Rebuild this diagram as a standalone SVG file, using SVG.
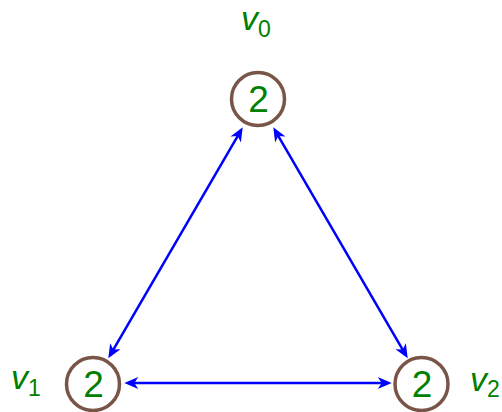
<svg xmlns="http://www.w3.org/2000/svg" width="502" height="412" viewBox="0 0 502 412">
<style>
.node{fill:#fff;stroke:#795548;stroke-width:3.5}
.num{font-family:"Liberation Sans",Arial,sans-serif;font-size:37px;fill:#008000;text-anchor:middle}
.lbl{font-family:"Liberation Sans",Arial,sans-serif;font-size:34px;font-style:italic;fill:#008000}
.sub{font-size:23px;font-style:normal}
.edge{stroke:#0000ff;stroke-width:2.5;fill:none;marker-start:url(#ah);marker-end:url(#ah)}
</style>
<defs>
<marker id="ah" markerUnits="userSpaceOnUse" orient="auto-start-reverse" refX="0" refY="0" markerWidth="30" markerHeight="30" viewBox="-15 -15 30 30" overflow="visible">
<path d="M4,0 L-10,-6 L-6,0 L-10,6 Z" fill="#0000ff"/>
</marker>
</defs>
<g id="edges">
<line class="edge" x1="240.7" y1="130.8" x2="110.3" y2="354.8"/>
<line class="edge" x1="275.3" y1="130.8" x2="405.7" y2="354.8"/>
<line class="edge" x1="128.3" y1="383" x2="387.7" y2="383"/>
</g>
<g id="v0">
<circle class="node" cx="258" cy="99" r="26.5"/>
<text class="num" x="258.5" y="112">2</text>
<text class="lbl" x="241" y="30">v<tspan class="sub" dy="6.5">0</tspan></text>
</g>
<g id="v1">
<circle class="node" cx="93" cy="384" r="26.5"/>
<text class="num" x="93.5" y="397">2</text>
<text class="lbl" x="11" y="389">v<tspan class="sub" dy="7">1</tspan></text>
</g>
<g id="v2">
<circle class="node" cx="421.5" cy="384" r="26.5"/>
<text class="num" x="422" y="397">2</text>
<text class="lbl" x="470" y="391">v<tspan class="sub" dy="6">2</tspan></text>
</g>
</svg>
